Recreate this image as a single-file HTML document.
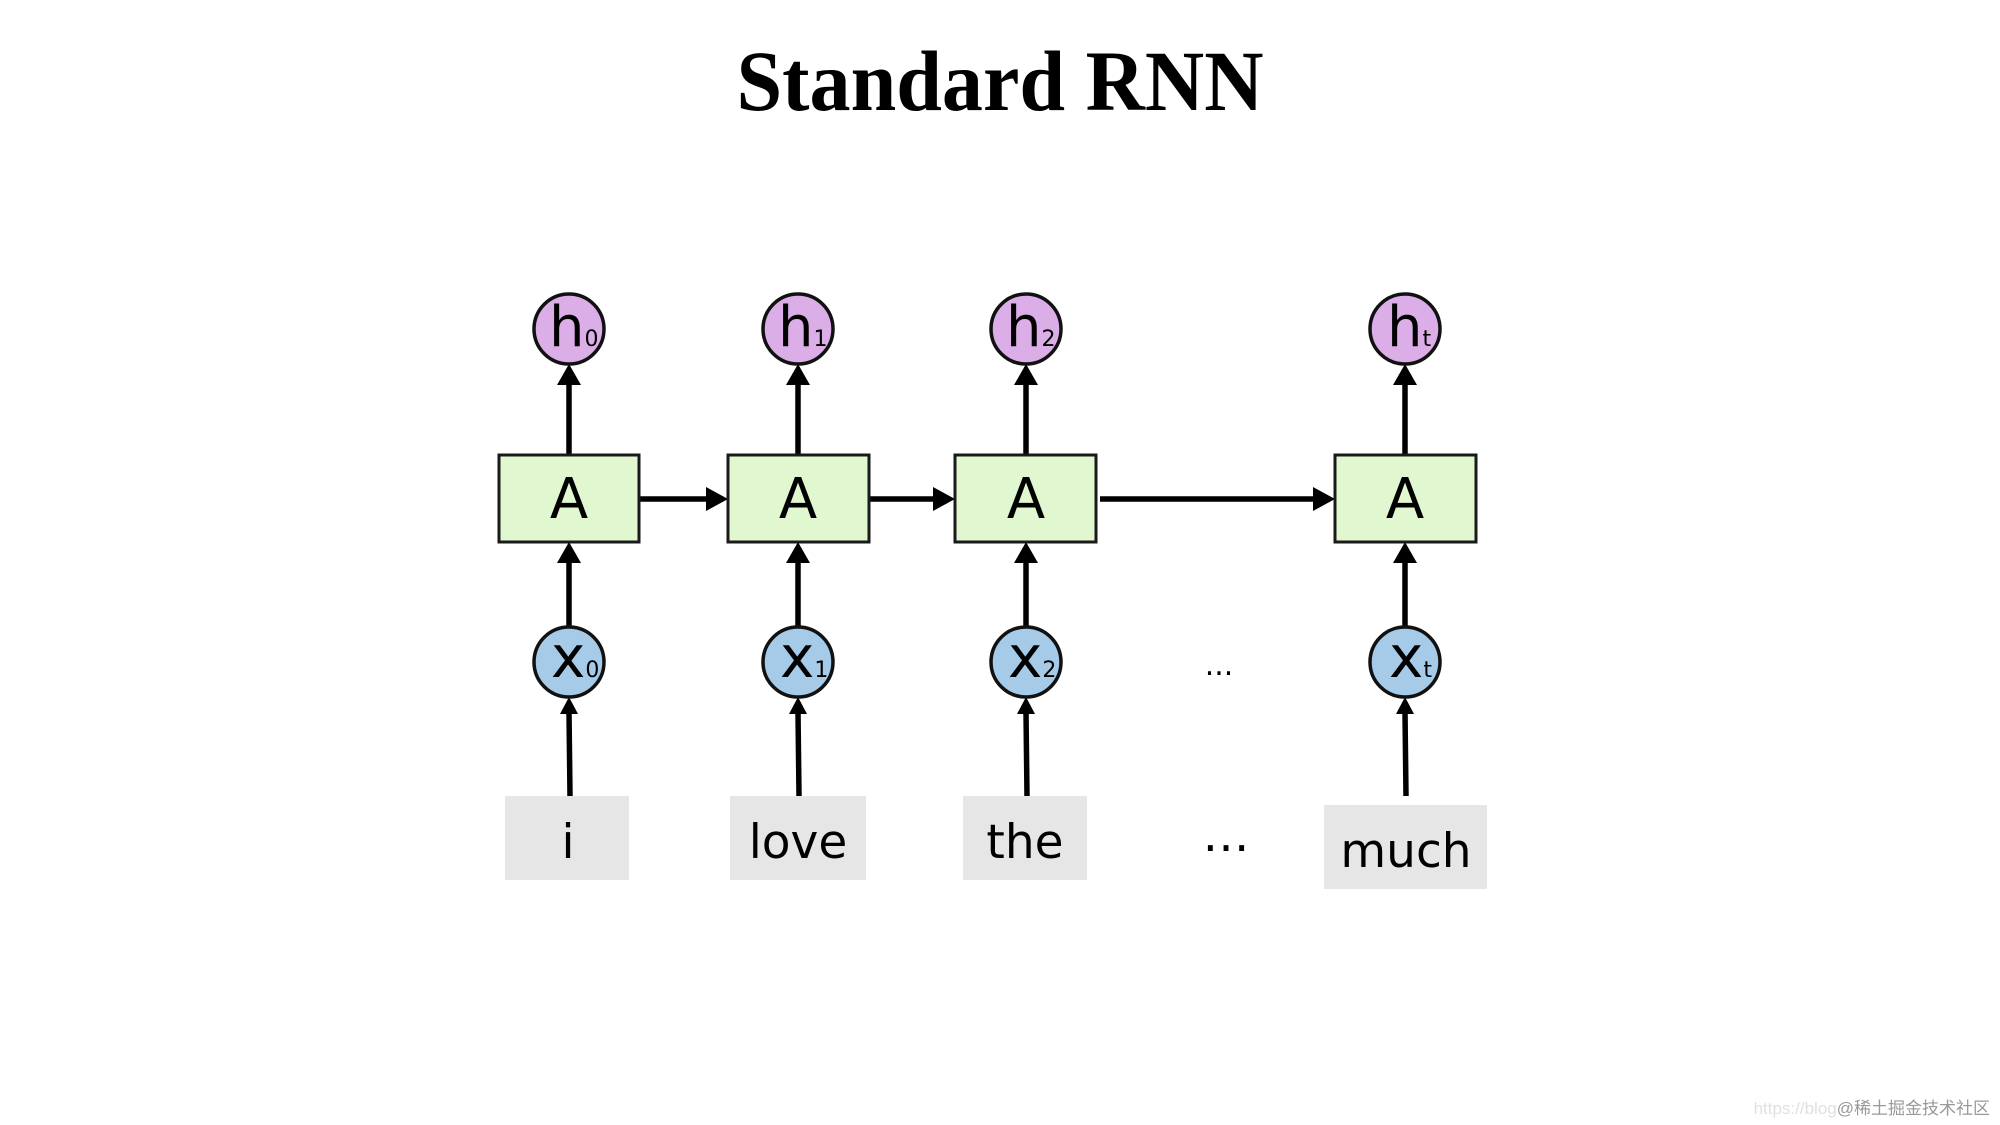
<!DOCTYPE html>
<html><head><meta charset="utf-8"><style>html,body{margin:0;padding:0;background:#fff}svg{display:block}</style></head>
<body>
<svg width="2000" height="1125" viewBox="0 0 2000 1125" xmlns="http://www.w3.org/2000/svg">
<rect width="2000" height="1125" fill="#fff"/>
<text x="1000" y="110" text-anchor="middle" font-family="Liberation Serif, serif" font-weight="bold" font-size="86" textLength="527" lengthAdjust="spacingAndGlyphs">Standard RNN</text>

<g stroke="#000" stroke-width="5.5" fill="none">
<line x1="569" y1="454" x2="569" y2="380"/><line x1="798" y1="454" x2="798" y2="380"/><line x1="1026" y1="454" x2="1026" y2="380"/><line x1="1405" y1="454" x2="1405" y2="380"/>
<line x1="569" y1="627" x2="569" y2="558"/><line x1="798" y1="627" x2="798" y2="558"/><line x1="1026" y1="627" x2="1026" y2="558"/><line x1="1405" y1="627" x2="1405" y2="558"/>
<line x1="570" y1="796" x2="569" y2="712"/><line x1="799" y1="796" x2="798" y2="712"/><line x1="1027" y1="796" x2="1026" y2="712"/><line x1="1406" y1="796" x2="1405" y2="712"/>
<line x1="640" y1="499" x2="710" y2="499"/><line x1="869" y1="499" x2="937" y2="499"/><line x1="1100" y1="499" x2="1315" y2="499"/>
</g>
<g fill="#000">
<polygon points="569,364 557,385 581,385"/><polygon points="798,364 786,385 810,385"/><polygon points="1026,364 1014,385 1038,385"/><polygon points="1405,364 1393,385 1417,385"/>
<polygon points="569,542 557,563 581,563"/><polygon points="798,542 786,563 810,563"/><polygon points="1026,542 1014,563 1038,563"/><polygon points="1405,542 1393,563 1417,563"/>
<polygon points="569,697 560,714 578,714"/><polygon points="798,697 789,714 807,714"/><polygon points="1026,697 1017,714 1035,714"/><polygon points="1405,697 1396,714 1414,714"/>
<polygon points="728,499 706,487 706,511"/><polygon points="955,499 933,487 933,511"/><polygon points="1335,499 1313,487 1313,511"/>
</g>

<g fill="#e0f7d0" stroke="#1a1a1a" stroke-width="3">
<rect x="499" y="455" width="140" height="87"/><rect x="728" y="455" width="141" height="87"/><rect x="955" y="455" width="141" height="87"/><rect x="1335" y="455" width="141" height="87"/>
</g>
<g font-family="DejaVu Sans, sans-serif" font-size="56" text-anchor="middle" fill="#000">
<text x="569" y="518">A</text><text x="798" y="518">A</text><text x="1026" y="518">A</text><text x="1405" y="518">A</text>
</g>

<g fill="#dcaee8" stroke="#111" stroke-width="3.5">
<circle cx="569" cy="329" r="35"/><circle cx="798" cy="329" r="35"/><circle cx="1026" cy="329" r="35"/><circle cx="1405" cy="329" r="35"/>
</g>
<g fill="#a5cbe9" stroke="#111" stroke-width="3.5">
<circle cx="569" cy="662" r="35"/><circle cx="798" cy="662" r="35"/><circle cx="1026" cy="662" r="35"/><circle cx="1405" cy="662" r="35"/>
</g>
<g font-family="DejaVu Sans, sans-serif" fill="#000">
<text x="549" y="346" font-size="56">h<tspan font-size="22">0</tspan></text>
<text x="778" y="346" font-size="56">h<tspan font-size="22">1</tspan></text>
<text x="1006" y="346" font-size="56">h<tspan font-size="22">2</tspan></text>
<text x="1387" y="346" font-size="56">h<tspan font-size="22">t</tspan></text>
<text x="551" y="677" font-size="58">x<tspan font-size="22">0</tspan></text>
<text x="780" y="677" font-size="58">x<tspan font-size="22">1</tspan></text>
<text x="1008" y="677" font-size="58">x<tspan font-size="22">2</tspan></text>
<text x="1389" y="677" font-size="58">x<tspan font-size="22">t</tspan></text>
</g>

<g fill="#e6e6e6">
<rect x="505" y="796" width="124" height="84"/><rect x="730" y="796" width="136" height="84"/><rect x="963" y="796" width="124" height="84"/><rect x="1324" y="805" width="163" height="84"/>
</g>
<g font-family="DejaVu Sans, sans-serif" font-size="47" text-anchor="middle" fill="#000">
<text x="568" y="858">i</text><text x="798" y="858">love</text><text x="1025" y="858">the</text><text x="1406" y="867">much</text>
<text x="1219" y="675" font-size="30">...</text>
<text x="1226" y="851" font-size="47">…</text>
</g>
<text x="1990" y="1114" text-anchor="end" font-family="Liberation Sans, Noto Sans CJK SC, sans-serif" font-size="17" fill="#999"><tspan fill="#e0e0e0">https://blog</tspan>@稀土掘金技术社区</text>
</svg>
</body></html>
